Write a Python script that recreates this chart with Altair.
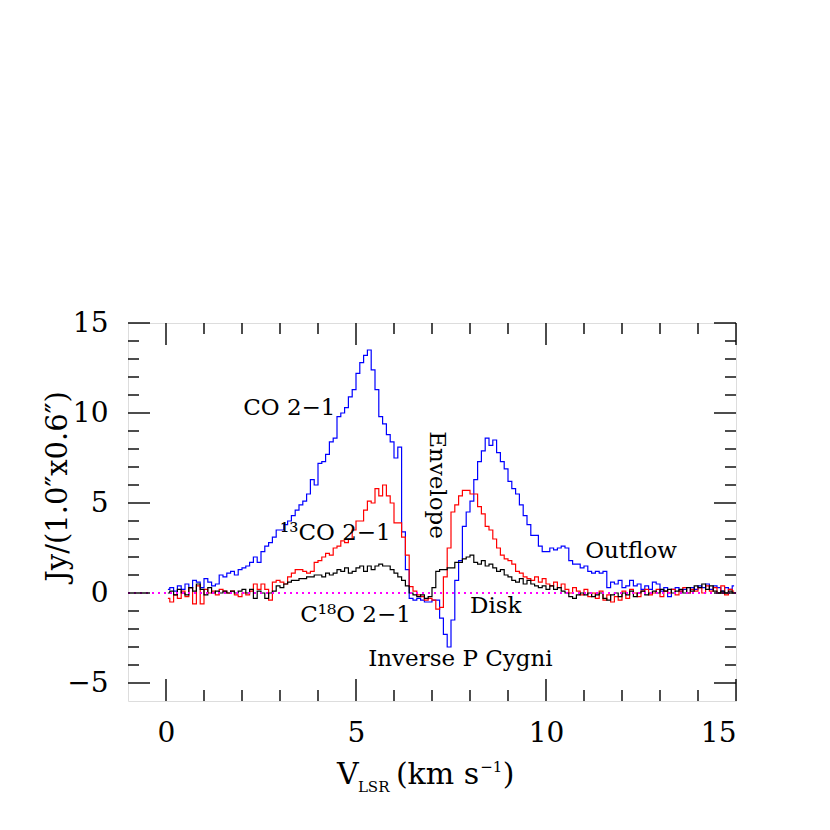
import altair as alt
import pandas as pd

# channel width (km/s) and spectra (channel centres 0.05 ... 14.95)
chan = 0.1
co = [0.2, 0.3, 0.1, 0.4, 0.2, 0.5, 0.3, 0.7, 0.6, 0.3,
      0.8, 0.6, 0.4, 0.5, 1.0, 0.9, 1.1, 1.2, 1.0, 1.3,
      1.4, 1.5, 1.7, 2.0, 1.7, 2.3, 2.6, 2.8, 3.1, 3.5,
      3.5, 3.8, 4.0, 4.3, 4.6, 4.9, 5.1, 5.5, 6.3, 6.0,
      7.2, 7.3, 7.7, 8.4, 8.6, 9.8, 10.0, 10.3, 10.9, 11.3,
      12.2, 12.8, 13.2, 13.5, 12.4, 11.3, 9.8, 9.4, 8.8, 8.4,
      7.5, 8.1, 3.4, 1.3, -0.3, -0.4, -0.3, -0.4, -0.5, -0.5,
      -0.4, -0.4, -1.4, -2.3, -3.0, -1.5, 0.7, 1.8, 3.7, 4.5,
      5.1, 6.3, 7.3, 7.9, 8.6, 8.2, 8.5, 7.8, 7.3, 6.9,
      6.2, 5.8, 5.5, 4.9, 4.3, 3.8, 3.2, 3.2, 2.6, 2.3,
      2.3, 2.5, 2.4, 2.5, 2.6, 2.5, 1.8, 1.6, 1.6, 1.4,
      1.5, 1.2, 1.1, 1.2, 1.1, 1.2, 0.3, 0.6, 0.5, 0.7,
      0.3, 0.4, 0.7, 0.4, 0.5, 0.2, 0.4, 0.2, 0.6, 0.5,
      0.1, 0.3, -0.2, 0.2, 0.3, 0.1, 0.2, 0.0, 0.3, 0.2,
      0.4, 0.3, 0.5, 0.2, 0.4, 0.3, 0.1, 0.3, 0.2, 0.4]
c13o = [-0.3, -0.5, -0.1, -0.3, 0.1, -0.2, 0.3, -0.6, 0.4, -0.6,
        0.2, 0.0, 0.1, -0.1, 0.2, 0.1, 0.0, 0.1, -0.1, -0.2,
        0.0, -0.1, 0.1, 0.5, 0.2, 0.5, 0.2, -0.4, 0.6, 0.7,
        0.6, 0.5, 0.9, 1.1, 1.3, 1.3, 1.2, 1.1, 1.2, 1.7,
        1.8, 2.0, 2.2, 2.1, 2.5, 2.6, 2.9, 2.8, 3.0, 3.5,
        4.0, 4.0, 4.6, 5.1, 5.0, 5.8, 5.4, 6.0, 5.4, 5.0,
        3.9, 3.9, 3.1, 2.1, 0.35, 0.1, -0.1, -0.2, -0.4, -0.3,
        -0.4, -0.9, -0.8, 0.9, 2.5, 4.5, 4.9, 5.4, 5.7, 5.7,
        5.5, 5.5, 4.8, 4.4, 3.7, 3.5, 3.0, 2.5, 2.1, 1.9,
        1.8, 1.6, 1.2, 1.1, 0.9, 0.8, 0.7, 0.9, 0.6, 0.8,
        0.5, 0.4, 0.6, 0.3, 0.5, 0.2, 0.0, 0.3, 0.1, -0.1,
        0.2, -0.2, 0.0, -0.3, 0.1, -0.4, -0.1, -0.5, -0.2, -0.4,
        0.1, -0.3, 0.2, 0.0, -0.2, 0.1, 0.2, -0.1, 0.0, 0.2,
        -0.2, 0.1, 0.0, 0.2, -0.1, 0.1, 0.3, 0.0, 0.2, 0.1,
        0.3, 0.0, 0.4, 0.1, 0.3, 0.0, 0.4, -0.1, 0.2, 0.1]
c18o = [0.0, 0.1, -0.1, 0.2, 0.0, -0.1, 0.3, 0.1, 0.5, 0.2,
        -0.1, 0.3, 0.0, 0.1, 0.0, 0.1, 0.0, 0.1, 0.0, 0.1,
        0.2, 0.0, 0.2, -0.3, 0.1, 0.0, -0.3, 0.0, 0.1, 0.4,
        0.3, 0.5, 0.6, 0.7, 0.7, 0.8, 0.8, 0.9, 0.9, 1.0,
        1.0, 0.9, 1.1, 1.0, 1.1, 1.3, 1.2, 1.4, 1.1, 1.2,
        1.4, 1.5, 1.2, 1.5, 1.3, 1.5, 1.6, 1.5, 1.5, 1.3,
        1.1, 0.9, 0.7, 0.4, 0.0, -0.1, -0.2, -0.1, -0.3, -0.2,
        0.3, 1.2, 1.3, 1.3, 1.4, 1.4, 1.7, 1.7, 1.9, 2.0,
        2.1, 1.7, 1.6, 1.8, 1.5, 1.6, 1.4, 1.2, 1.3, 1.0,
        0.9, 0.7, 0.6, 0.8, 0.5, 0.7, 0.5, 0.4, 0.3, 0.4,
        0.2, 0.4, 0.2, 0.3, 0.1, 0.0, -0.2, -0.3, -0.1, 0.0,
        -0.1, 0.0, -0.2, -0.1, 0.0, -0.3, -0.4, -0.1, 0.0, -0.2,
        0.0, -0.1, 0.1, -0.2, 0.0, 0.1, -0.1, 0.0, 0.1, 0.0,
        0.2, 0.1, 0.2, 0.0, 0.1, 0.2, 0.0, 0.3, 0.1, 0.4,
        0.3, 0.5, 0.2, 0.4, 0.1, 0.0, 0.1, 0.0, 0.1, 0.0]
vel = [round(0.05 + chan * i, 3) for i in range(len(co))]

x_major = [0, 5, 10, 15]
x_minor = [1, 2, 3, 4, 6, 7, 8, 9, 11, 12, 13, 14]
y_major = [-5, 0, 5, 10, 15]
y_minor = [-4, -3, -2, -1, 1, 2, 3, 4, 6, 7, 8, 9, 11, 12, 13, 14]

ann_text = ["CO 2\u22121", "\u00b9\u00b3CO 2\u22121", "C\u00b9\u2078O 2\u22121", "Outflow", "Disk", "Inverse P Cygni"]
ann_x = [2.03, 3.0, 3.53, 11.03, 8.0, 5.32]
ann_y = [10.3, 3.35, -1.2, 2.35, -0.7, -3.67]

W, H = 608, 378
FONT = "DejaVu Serif"
xs = alt.Scale(domain=[-1, 15], nice=False, zero=False)
ys = alt.Scale(domain=[-6, 15], nice=False, zero=False)
x_axis = alt.Axis(values=x_major, ticks=False, domain=False, grid=False,
                  labelFont=FONT, labelFontSize=28, labelPadding=18,
                  labelColor="black", title=None)
y_axis = alt.Axis(values=y_major, ticks=False, domain=False, grid=False,
                  labelFont=FONT, labelFontSize=28, labelPadding=20, labelColor="black",
                  title="Jy/(1.0\u2033x0.6\u2033)", titleFont=FONT,
                  titleFontSize=29, titleFontWeight="normal", titleColor="black",
                  titleAngle=270, titleAlign="center", titleBaseline="middle",
                  titleX=-71, titleY=163)

def X(f):
    return alt.X(f, scale=xs, axis=x_axis)

def Y(f):
    return alt.Y(f, scale=ys, axis=y_axis)

spec = pd.DataFrame({"v": vel, "co": co, "c13o": c13o, "c18o": c18o})
base = alt.Chart(spec)
line_co = base.mark_line(interpolate="step", color="#0000ff", strokeWidth=1.2, clip=True).encode(
    x=X("v:Q"), y=Y("co:Q"))
line_13 = base.mark_line(interpolate="step", color="#ff0000", strokeWidth=1.2, clip=True).encode(
    x=X("v:Q"), y=Y("c13o:Q"))
line_18 = base.mark_line(interpolate="step", color="black", strokeWidth=1.2, clip=True).encode(
    x=X("v:Q"), y=Y("c18o:Q"))

zero = alt.Chart(pd.DataFrame({"z": [0]})).mark_rule(
    color="#ff00ff", strokeDash=[2, 4], strokeWidth=2).encode(y=Y("z:Q"))

def xticks(vals, length):
    d = alt.Chart(pd.DataFrame({"t": vals}))
    bot = d.mark_rule(color="black", strokeWidth=1.4).encode(
        x=X("t:Q"), y=alt.value(H), y2=alt.value(H - length))
    top = d.mark_rule(color="black", strokeWidth=1.4).encode(
        x=X("t:Q"), y=alt.value(0), y2=alt.value(length))
    return [bot, top]

def yticks(vals, length):
    d = alt.Chart(pd.DataFrame({"t": vals}))
    lef = d.mark_rule(color="black", strokeWidth=1.4).encode(
        y=Y("t:Q"), x=alt.value(0), x2=alt.value(length))
    rig = d.mark_rule(color="black", strokeWidth=1.4).encode(
        y=Y("t:Q"), x=alt.value(W), x2=alt.value(W - length))
    return [lef, rig]

ticks = xticks(x_major, 22) + xticks(x_minor, 11) + yticks(y_major, 22) + yticks(y_minor, 11)

ann = alt.Chart(pd.DataFrame({"t": ann_text, "x": ann_x, "y": ann_y})).mark_text(
    align="left", baseline="middle", font=FONT, fontSize=23, color="black").encode(
    x=X("x:Q"), y=Y("y:Q"), text="t:N")

env = alt.Chart(pd.DataFrame({"t": ["Envelope"], "x": [7.13], "y": [6.0]})).mark_text(
    align="center", baseline="middle", angle=90, font=FONT, fontSize=23, color="black").encode(
    x=X("x:Q"), y=Y("y:Q"), text="t:N")

# x-axis title pieces: V_LSR (km s^-1)
xt_big_text = ["V", "(km s", ")"]
xt_big_x = [4.5, 6.05, 8.86]
xt_sub_text = ["LSR"]
xt_sub_x = [5.05]
xt_sup_text = ["\u22121"]
xt_sup_x = [8.27]

def xtitle(texts, xpos, size, py):
    return alt.Chart(pd.DataFrame({"t": texts, "x": xpos})).mark_text(
        align="left", baseline="alphabetic", font=FONT, fontSize=size, color="black").encode(
        x=X("x:Q"), y=alt.value(py), text="t:N")

xt = [xtitle(xt_big_text, xt_big_x, 30, 461),
      xtitle(xt_sub_text, xt_sub_x, 15, 469),
      xtitle(xt_sup_text, xt_sup_x, 15, 449)]

chart = alt.layer(line_co, line_13, line_18, zero, *ticks, ann, env, *xt).properties(
    width=W, height=H,
    autosize=alt.AutoSizeParams(type="none"),
    padding={"left": 120, "top": 315, "right": 80, "bottom": 110},
).configure_view(stroke="black", strokeWidth=1.5).configure(background="white")

chart.save("out.html", embed_options={"renderer": "svg", "actions": False})
